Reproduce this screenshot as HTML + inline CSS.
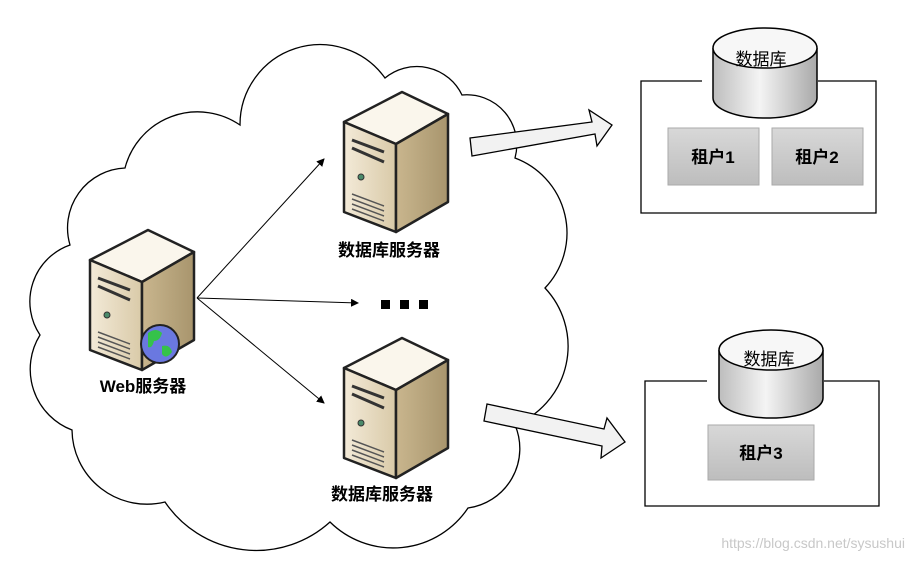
<!DOCTYPE html>
<html><head><meta charset="utf-8"><style>
body{margin:0;background:#fff}
svg text{font-family:"Liberation Sans","Noto Sans CJK SC",sans-serif;}
</style></head><body>
<svg width="913" height="560" viewBox="0 0 913 560" xmlns="http://www.w3.org/2000/svg">
<defs>
<linearGradient id="fr" x1="0" x2="1"><stop offset="0" stop-color="#f3ead8"/><stop offset="1" stop-color="#d9caa8"/></linearGradient>
<linearGradient id="sd" x1="0" x2="1"><stop offset="0" stop-color="#c9b68e"/><stop offset="1" stop-color="#a8956d"/></linearGradient>
<linearGradient id="cyl" x1="0" x2="1"><stop offset="0" stop-color="#bdbdbd"/><stop offset="0.45" stop-color="#f4f4f4"/><stop offset="1" stop-color="#a9a9a9"/></linearGradient>
<linearGradient id="ten" x1="0" y1="0" x2="0" y2="1"><stop offset="0" stop-color="#d8d8d8"/><stop offset="1" stop-color="#bdbdbd"/></linearGradient>
<g id="srv">
<polygon points="0,32 58,2 104,24 52,54" fill="#faf6ec" stroke="#222" stroke-width="2.5" stroke-linejoin="round"/>
<polygon points="0,32 52,54 52,142 0,122" fill="url(#fr)" stroke="#222" stroke-width="2.5" stroke-linejoin="round"/>
<polygon points="52,54 104,24 104,112 52,142" fill="url(#sd)" stroke="#222" stroke-width="2.5" stroke-linejoin="round"/>
<path d="M8,50 L40,62 M8,58 L40,72" stroke="#333" stroke-width="3"/>
<circle cx="17" cy="87" r="3" fill="#4a8a6a" stroke="#333"/>
<path d="M8,104 L40,116 M8,109 L40,121 M8,114 L40,126 M8,119 L40,131" stroke="#555" stroke-width="1.5"/>
</g>
<marker id="ah" markerWidth="8" markerHeight="8" refX="7" refY="4" orient="auto"><path d="M0,0 L8,4 L0,8 z" fill="#000"/></marker>
</defs>

<!-- cloud -->
<path d="M70,245 A60,60 0 0 1 125,168 A75,75 0 0 1 240,125 A80,80 0 0 1 385,78 A50,50 0 0 1 462,95 A50,50 0 0 1 515,158 A80,80 0 0 1 545,288 A85,85 0 0 1 515,425 A60,60 0 0 1 468,508 A90,90 0 0 1 330,522 A110,110 0 0 1 165,502 A75,75 0 0 1 72,430 A65,65 0 0 1 40,335 A60,60 0 0 1 70,245 Z" fill="#fff" stroke="#000" stroke-width="1.3"/>

<use href="#srv" x="344" y="90"/>
<use href="#srv" x="344" y="336"/>
<use href="#srv" x="90" y="228"/>
<circle cx="160" cy="344" r="19" fill="#6a78e0" stroke="#222" stroke-width="2"/>
<path d="M148,333 q8,-6 14,0 q-2,8 -8,8 q-2,8 -6,6 z M162,346 q8,-2 10,6 q-6,8 -10,2 z" fill="#35c24a"/>

<text x="143" y="392" font-size="17" font-weight="bold" text-anchor="middle">Web服务器</text>
<text x="389" y="256" font-size="17" font-weight="bold" text-anchor="middle">数据库服务器</text>
<text x="382" y="500" font-size="17" font-weight="bold" text-anchor="middle">数据库服务器</text>

<line x1="197" y1="298" x2="324" y2="159" stroke="#000" marker-end="url(#ah)"/>
<line x1="197" y1="298" x2="358" y2="303" stroke="#000" marker-end="url(#ah)"/>
<line x1="197" y1="298" x2="324" y2="403" stroke="#000" marker-end="url(#ah)"/>
<rect x="381" y="300" width="9" height="9"/><rect x="400" y="300" width="9" height="9"/><rect x="419" y="300" width="9" height="9"/>

<!-- block arrows -->
<polygon points="470,138 592,122 589,110 612,125 597,146 595,134 472,156" fill="#f2f2f2" stroke="#000" stroke-width="1.3"/>
<polygon points="487,404 604,429 607,418 625,442 601,458 602,446 484,421" fill="#f2f2f2" stroke="#000" stroke-width="1.3"/>

<!-- DB box 1 -->
<polyline points="702,81 641,81 641,213 876,213 876,81 818,81" fill="none" stroke="#000" stroke-width="1.3"/>
<path d="M713,48 V98 A52,20 0 0 0 817,98 V48" fill="url(#cyl)" stroke="#000" stroke-width="1.5"/>
<ellipse cx="765" cy="48" rx="52" ry="20" fill="#f7f7f7" stroke="#000" stroke-width="1.5"/>
<text x="761" y="65" font-size="17" text-anchor="middle">数据库</text>
<rect x="668" y="128" width="91" height="57" fill="url(#ten)" stroke="#aaa"/>
<rect x="772" y="128" width="91" height="57" fill="url(#ten)" stroke="#aaa"/>
<text x="713" y="163" font-size="17" font-weight="bold" text-anchor="middle">租户1</text>
<text x="817" y="163" font-size="17" font-weight="bold" text-anchor="middle">租户2</text>

<!-- DB box 2 -->
<polyline points="707,381 645,381 645,506 879,506 879,381 824,381" fill="none" stroke="#000" stroke-width="1.3"/>
<path d="M719,350 V398 A52,20 0 0 0 823,398 V350" fill="url(#cyl)" stroke="#000" stroke-width="1.5"/>
<ellipse cx="771" cy="350" rx="52" ry="20" fill="#f7f7f7" stroke="#000" stroke-width="1.5"/>
<text x="769" y="365" font-size="17" text-anchor="middle">数据库</text>
<rect x="708" y="425" width="106" height="55" fill="url(#ten)" stroke="#aaa"/>
<text x="761" y="459" font-size="17" font-weight="bold" text-anchor="middle">租户3</text>

<text x="905" y="548" font-size="14" fill="#c8c8c8" text-anchor="end">https://blog.csdn.net/sysushui</text>
</svg>
</body></html>
